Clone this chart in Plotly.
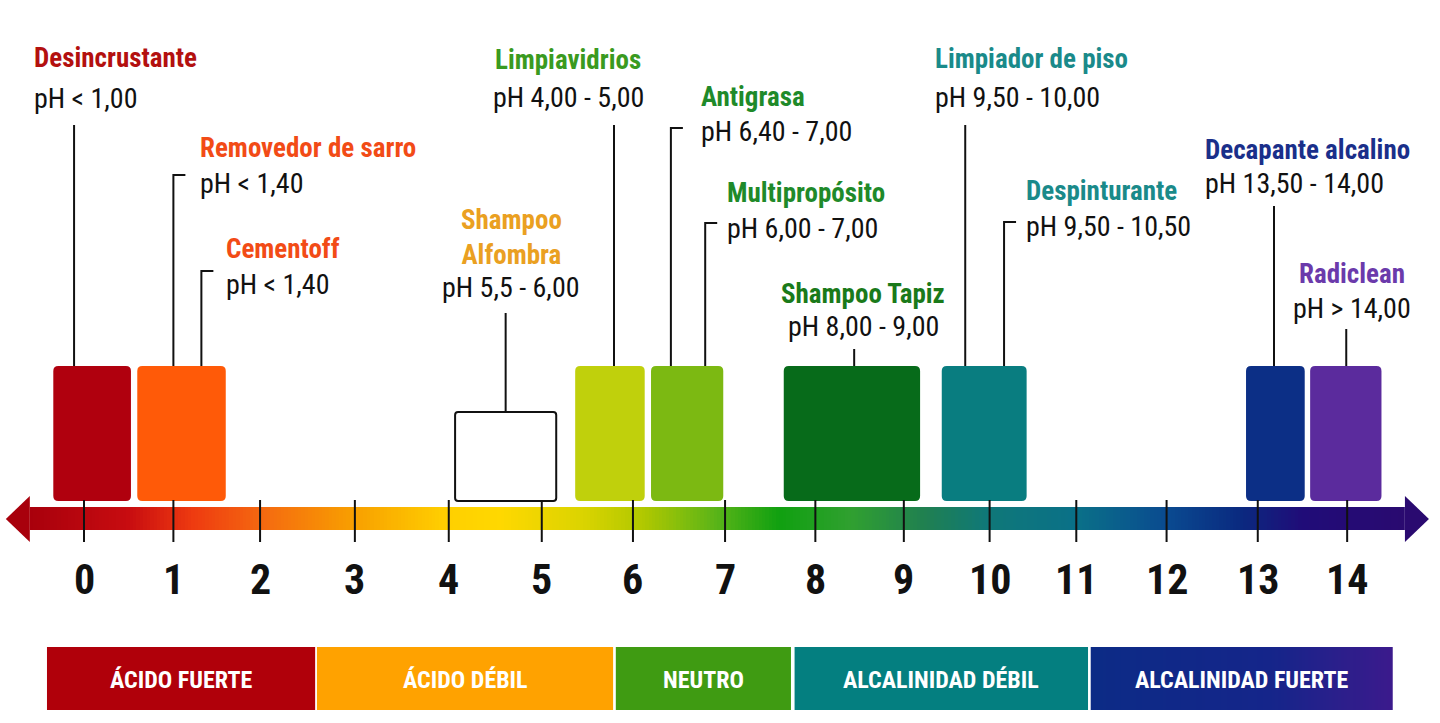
import numpy as np
import plotly.graph_objects as go

# --- data ---
products = ["Desincrustante", "Removedor de sarro", "Cementoff", "Shampoo<br>Alfombra",
            "Limpiavidrios", "Antigrasa", "Multipropósito", "Shampoo Tapiz",
            "Limpiador de piso", "Despinturante", "Decapante alcalino", "Radiclean"]
ph_labels = ["pH < 1,00", "pH < 1,40", "pH < 1,40", "pH 5,5 - 6,00",
             "pH 4,00 - 5,00", "pH 6,40 - 7,00", "pH 6,00 - 7,00", "pH 8,00 - 9,00",
             "pH 9,50 - 10,00", "pH 9,50 - 10,50", "pH 13,50 - 14,00", "pH > 14,00"]
# where each product's leader line meets the scale (pH units)
marker_ph = [-0.11, 0.99, 1.30, 4.67, 5.87, 6.50, 6.88, 8.53, 9.76, 10.19, 13.18, 13.98]
product_box = [0, 1, 1, 2, 3, 4, 4, 5, 6, 6, 7, 8]

# coloured blocks above the scale (pH units)
box_lo = [-0.34, 0.59, 4.11, 5.44, 6.28, 7.75, 9.50, 12.87, 13.58]
box_hi = [0.52, 1.57, 5.23, 6.21, 7.08, 9.26, 10.44, 13.52, 14.37]
box_colors = ["#b0000e", "#ff5a08", "white", "#c0d00c", "#7cb912",
              "#076b1a", "#097d80", "#0c2f86", "#5b2b9d"]

# the drawn scale is hand-spaced: tick values and where they sit on it
tick_labels = [str(t) for t in range(0, 15)]
tick_pos = [0.0, 0.99, 1.95, 3.0, 4.04, 5.07, 6.08, 7.10, 8.10, 9.08, 10.03, 10.99, 11.99, 13.0, 13.99]

categories = ["ÁCIDO FUERTE", "ÁCIDO DÉBIL", "NEUTRO", "ALCALINIDAD DÉBIL", "ALCALINIDAD FUERTE"]
cat_lo = [-0.41, 2.58, 5.89, 7.87, 11.15]
cat_hi = [2.56, 5.86, 7.83, 11.12, 14.49]
cat_colors = ["#b0000a", "#ffa200", "#3f9b12", "#047f80", None]

# gradient of the scale arrow (pH, colour)
grad_ph = [-0.6, 0.5, 1.2, 2.0, 3.0, 4.0, 4.6, 5.5, 6.2, 7.0, 7.7, 8.5, 9.3, 10.0, 11.0, 12.0, 12.8, 13.5, 14.63]
grad_col = ["#a8000c", "#c80c10", "#ee3a10", "#f56a10", "#f8a000", "#ffcf00", "#ffd800", "#dcd400",
            "#b0c800", "#5ab418", "#10a010", "#30a030", "#208050", "#0f7878", "#0a7088", "#0a4a90",
            "#0a2a80", "#200c78", "#2a0a70"]

title_colors = ["#b3100f", "#f24b16", "#f24b16", "#eaa021", "#3a9a20", "#1f8a2a", "#1f8a2a",
                "#1a7a1a", "#1a8a8a", "#1a8a8a", "#1a2f8a", "#6b3aab"]

# --- layout constants (pixels) ---
W, H = 1440, 723
X0_PX, PX_PER_PH = 84, 90.29
BOX_TOP, BOX_BOT, WHITE_TOP = 366, 501, 412
BAND_TOP, BAND_BOT = 507, 530
TICK_TOP, TICK_BOT = 500, 542
CAT_TOP, CAT_BOT = 647, 710
RADIUS = 5
FONT = "Roboto Condensed, Liberation Sans Narrow, DejaVu Sans Condensed, Roboto, sans-serif"

# label placement: (x px, align, title y, ph y, leader top y, hook y or None)
placement = [
    (32, "left", 58, 98, 125, None),
    (198, "left", 148, 183, None, 175),
    (224, "left", 249, 284, None, 271),
    (511, "center", 237, 287, 313, None),
    (568, "center", 60, 97, 125, None),
    (699, "left", 97, 131, None, 128),
    (725, "left", 193, 228, None, 223),
    (863, "center", 294, 326, 349, None),
    (933, "left", 59, 97, 125, None),
    (1024, "left", 191, 226, None, 222),
    (1203, "left", 150, 183, 206, None),
    (1352, "center", 274, 308, 329, None),
]


def ph_from_px(px):
    return (px - X0_PX) / PX_PER_PH


def rounded_rect(x0, x1, y0, y1, r):
    rx = r / PX_PER_PH
    return (f"M {x0 + rx},{y0} L {x1 - rx},{y0} Q {x1},{y0} {x1},{y0 + r} "
            f"L {x1},{y1 - r} Q {x1},{y1} {x1 - rx},{y1} L {x0 + rx},{y1} "
            f"Q {x0},{y1} {x0},{y1 - r} L {x0},{y0 + r} Q {x0},{y0} {x0 + rx},{y0} Z")


fig = go.Figure()
shapes = []
annotations = []

# gradient band
edges = np.linspace(grad_ph[0], grad_ph[-1], 401)
mids = (edges[:-1] + edges[1:]) / 2
span = grad_ph[-1] - grad_ph[0]
scale = [[(p - grad_ph[0]) / span, c] for p, c in zip(grad_ph, grad_col)]
fig.add_trace(go.Heatmap(x=edges, y=[BAND_TOP, BAND_BOT], z=[mids], colorscale=scale,
                         zmin=grad_ph[0], zmax=grad_ph[-1], showscale=False, hoverinfo="skip"))

# arrow heads
head = 24 / PX_PER_PH
fig.add_trace(go.Scatter(x=[grad_ph[0], grad_ph[0] - head, grad_ph[0]],
                         y=[496, 519, 542], fill="toself", mode="lines",
                         line=dict(width=0, color="#a8000c"), fillcolor="#a8000c", hoverinfo="skip"))
fig.add_trace(go.Scatter(x=[grad_ph[-1], grad_ph[-1] + head, grad_ph[-1]],
                         y=[496, 519, 542], fill="toself", mode="lines",
                         line=dict(width=0, color="#2a0a70"), fillcolor="#2a0a70", hoverinfo="skip"))

# last category segment has a navy-to-purple gradient
ce = np.linspace(cat_lo[4], cat_hi[4], 101)
fig.add_trace(go.Heatmap(x=ce, y=[CAT_TOP, CAT_BOT], z=[(ce[:-1] + ce[1:]) / 2],
                         colorscale=[[0, "#0c2b86"], [0.6, "#15258a"], [1, "#3b1a8c"]],
                         showscale=False, hoverinfo="skip"))

# category segments
for lo, hi, col, name in zip(cat_lo, cat_hi, cat_colors, categories):
    if col:
        shapes.append(dict(type="rect", xref="x", yref="y", x0=lo, x1=hi, y0=CAT_TOP, y1=CAT_BOT,
                           fillcolor=col, line=dict(width=0), layer="below"))
    annotations.append(dict(x=(lo + hi) / 2, y=(CAT_TOP + CAT_BOT) / 2 + 1, xref="x", yref="y",
                            text=name, showarrow=False,
                            font=dict(family=FONT, size=24, color="white", weight="bold")))

# boxes
for lo, hi, col in zip(box_lo, box_hi, box_colors):
    top = WHITE_TOP if col == "white" else BOX_TOP
    shapes.append(dict(type="path", xref="x", yref="y",
                       path=rounded_rect(lo, hi, top, BOX_BOT, RADIUS if col != "white" else 3),
                       fillcolor=col,
                       line=dict(width=2 if col == "white" else 0, color="#111")))

# ticks and tick labels
for lab, t in zip(tick_labels, tick_pos):
    shapes.append(dict(type="line", xref="x", yref="y", x0=t, x1=t, y0=TICK_TOP, y1=TICK_BOT,
                       line=dict(width=2, color="#111")))
    annotations.append(dict(x=t, y=579, xref="x", yref="y", text=lab, showarrow=False,
                            font=dict(family=FONT, size=42, color="#111", weight="bold")))

# product labels and leaders
for i, name in enumerate(products):
    px, align, ty, py, top, hook = placement[i]
    b = product_box[i]
    box_top = WHITE_TOP if box_colors[b] == "white" else BOX_TOP
    xm = marker_ph[i]
    if hook is None:
        shapes.append(dict(type="line", xref="x", yref="y", x0=xm, x1=xm, y0=top, y1=box_top,
                           line=dict(width=2, color="#111")))
    else:
        shapes.append(dict(type="path", xref="x", yref="y",
                           path=f"M {xm + 12 / PX_PER_PH},{hook} L {xm},{hook} L {xm},{box_top}",
                           line=dict(width=2, color="#111")))
    xanchor = "left" if align == "left" else "center"
    annotations.append(dict(x=px / W, y=ty, xref="paper", yref="y", text=name, showarrow=False,
                            xanchor=xanchor, align="center",
                            font=dict(family=FONT, size=27, color=title_colors[i], weight="bold")))
    annotations.append(dict(x=px / W, y=py, xref="paper", yref="y", text=ph_labels[i],
                            showarrow=False, xanchor=xanchor,
                            font=dict(family=FONT, size=28, color="#111")))

fig.update_layout(
    width=W, height=H,
    margin=dict(l=0, r=0, t=0, b=0),
    paper_bgcolor="white", plot_bgcolor="white",
    xaxis=dict(range=[ph_from_px(0), ph_from_px(W)], visible=False, fixedrange=True),
    yaxis=dict(range=[H, 0], visible=False, fixedrange=True),
    shapes=shapes, annotations=annotations,
    showlegend=False,
)

# drop the default page margin so the figure sits at the window's corner
fig.write_html("out.html", config={"displayModeBar": False},
               post_script="document.body.style.margin='0';")
